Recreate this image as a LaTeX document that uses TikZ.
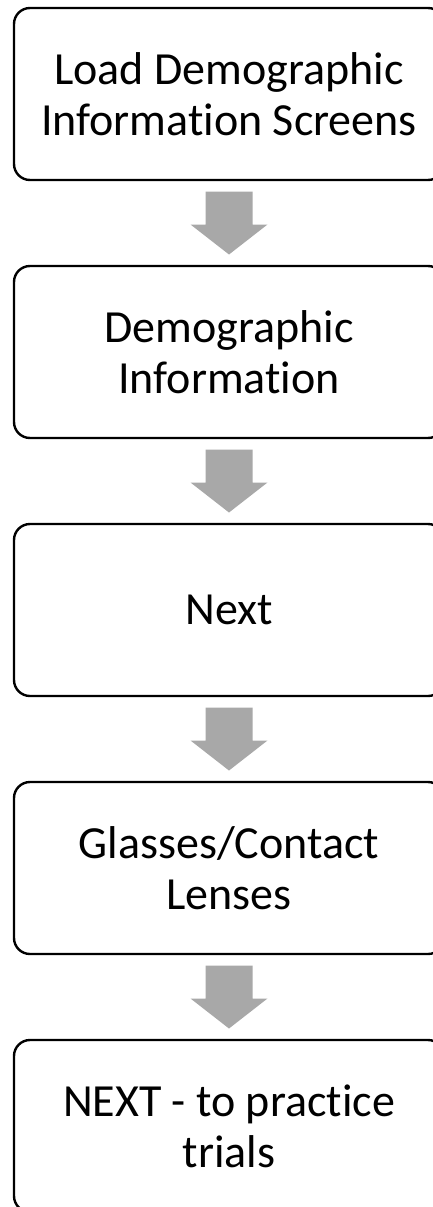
\documentclass[tikz,border=0pt]{standalone}
\usepackage{fontspec}
\setmainfont{Carlito}[RawFeature={-liga;-clig;-calt;-dlig}]
\usetikzlibrary{calc}
\definecolor{arrowgray}{HTML}{A8A8A8}
\tikzset{
  stepbox/.style={draw=black, line width=2.4pt, rounded corners=16pt,
    minimum width=430pt, minimum height=172pt, inner sep=0pt,
    align=center, font=\fontsize{46}{51}\selectfont},
  downarrow/.pic={
    \fill[arrowgray] (-23.5,31.5) -- (23.5,31.5) -- (23.5,-1.5) -- (38.5,-1.5)
      -- (0,-31.5) -- (-38.5,-1.5) -- (-23.5,-1.5) -- cycle;
  }
}
\begin{document}
\begin{tikzpicture}[x=1pt,y=1pt]
  \useasboundingbox (0,0) rectangle (433,-1207);
  \fill[white] (0,0) rectangle (433,-1207);
  \clip (0,0) rectangle (433,-1207);

  % process steps, top to bottom
  \node[stepbox] (b1) at (229,-94)   {Load Demographic\\Information Screens};
  \node[stepbox] (b2) at (229,-352)  {Demographic\\Information};
  \node[stepbox] (b3) at (229,-610)  {Next};
  \node[stepbox] (b4) at (229,-868)  {Glasses/Contact\\Lenses};
  \node[stepbox] (b5) at (229,-1126) {NEXT - to practice\\trials};

  % block arrows between consecutive steps
  \foreach \a/\b in {b1/b2, b2/b3, b3/b4, b4/b5}
    \pic at ($(\a.south)!0.5!(\b.north)$) {downarrow};
\end{tikzpicture}
\end{document}
